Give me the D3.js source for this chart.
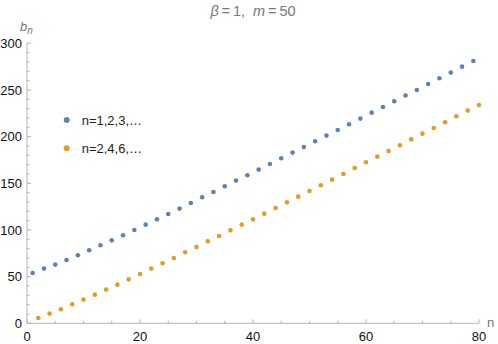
<!DOCTYPE html>
<meta charset="utf-8">
<style>
  body { margin: 0; background: white; }
  svg { font-family: "Liberation Sans", Arial, sans-serif; }
  text { white-space: pre; }
</style>
<script src="https://d3js.org/d3.v7.min.js"></script>
<div id="chart"></div>
<script>
// odd n (first series) and even n (second series)
var nOdd = [1,3,5,7,9,11,13,15,17,19,21,23,25,27,29,31,33,35,37,39,
            41,43,45,47,49,51,53,55,57,59,61,63,65,67,69,71,73,75,77,79];
var bOdd = [53.9,58.6,62.9,67.8,72.9,78.2,83.6,88.9,94.3,100.0,105.7,111.4,117.1,122.9,128.9,135.0,
            140.7,146.8,152.9,158.6,164.7,170.7,176.8,182.9,188.9,195.0,201.1,207.1,213.2,219.3,
            225.7,231.8,237.9,244.0,250.0,256.4,262.5,268.6,275.0,281.0];
var nEven = [2,4,6,8,10,12,14,16,18,20,22,24,26,28,30,32,34,36,38,40,
             42,44,46,48,50,52,54,56,58,60,62,64,66,68,70,72,74,76,78,80];
var bEven = [5.7,10.4,15.0,20.4,25.4,30.7,36.1,41.4,47.1,52.9,58.6,64.3,70.0,76.1,81.8,87.9,
             93.5,99.6,105.7,111.4,117.5,123.5,129.6,135.7,141.8,147.9,153.9,160.0,166.4,172.5,
             178.6,184.6,190.7,197.1,203.2,209.3,215.4,221.8,227.9,233.9];
var xTicks = [0,20,40,60,80];
var yTicks = [0,50,100,150,200,250,300];
var legendLabels = ["n=1,2,3,\u2026", "n=2,4,6,\u2026"];
var colors = ["#5e81b5", "#e19c24"];

var width = 498, height = 344;
var svg = d3.select("#chart").append("svg")
    .attr("width", width)
    .attr("height", height);

var x = d3.scaleLinear().domain([0, 80]).range([27, 479]);
var y = d3.scaleLinear().domain([0, 300]).range([323.3, 43.3]);

var axisColor = "#b3b3b3";

// x axis (ticks point inward)
var gx = svg.append("g").attr("transform", "translate(0," + y(0) + ")");
gx.append("line").attr("x1", x(0)).attr("x2", x(80)).attr("stroke", axisColor);
gx.selectAll(".minor").data(d3.range(0, 81, 5)).enter().append("line")
    .attr("x1", function(d){ return x(d); }).attr("x2", function(d){ return x(d); })
    .attr("y1", 0).attr("y2", function(d){ return d % 20 === 0 ? -4 : -2.5; })
    .attr("stroke", axisColor);
gx.selectAll("text").data(xTicks).enter().append("text")
    .attr("x", function(d){ return x(d); })
    .attr("y", 18)
    .attr("text-anchor", "middle")
    .attr("font-size", "13px")
    .attr("fill", "#111")
    .text(function(d){ return d; });

// y axis
var gy = svg.append("g").attr("transform", "translate(" + x(0) + ",0)");
gy.append("line").attr("y1", y(0)).attr("y2", y(300)).attr("stroke", axisColor);
gy.selectAll(".minor").data(d3.range(0, 301, 10)).enter().append("line")
    .attr("y1", function(d){ return y(d); }).attr("y2", function(d){ return y(d); })
    .attr("x1", 0).attr("x2", function(d){ return d % 50 === 0 ? 4 : 2.5; })
    .attr("stroke", axisColor);
gy.selectAll("text").data(yTicks).enter().append("text")
    .attr("x", -5)
    .attr("y", function(d){ return y(d); })
    .attr("dy", "0.36em")
    .attr("text-anchor", "end")
    .attr("font-size", "13px")
    .attr("fill", "#111")
    .text(function(d){ return d; });

// axis labels
var yl = svg.append("text").attr("x", 20).attr("y", 31)
    .attr("font-size", "13px").attr("fill", "#777").attr("font-style", "italic");
yl.append("tspan").text("b");
yl.append("tspan").attr("dy", 3).attr("font-size", "10px").text("n");
svg.append("text").attr("x", 487).attr("y", 327)
    .attr("font-size", "13px").attr("fill", "#777").text("n");

// title
var t = svg.append("text").attr("x", 253).attr("y", 16)
    .attr("text-anchor", "middle").attr("font-size", "14.5px").attr("fill", "#777");
t.append("tspan").attr("font-style", "italic").text("\u03b2");
t.append("tspan").text("\u2009=\u20091,\u00a0\u00a0");
t.append("tspan").attr("font-style", "italic").text("m");
t.append("tspan").text("\u2009=\u200950");

// points
var series = [
  { n: nOdd, b: bOdd, color: colors[0] },
  { n: nEven, b: bEven, color: colors[1] }
];
series.forEach(function(s) {
  svg.append("g").selectAll("circle")
    .data(s.n.map(function(n, i){ return [n, s.b[i]]; }))
    .enter().append("circle")
      .attr("cx", function(d){ return x(d[0]); })
      .attr("cy", function(d){ return y(d[1]); })
      .attr("r", 2.3)
      .attr("fill", s.color);
});

// legend
var lg = svg.append("g").selectAll("g").data(legendLabels).enter().append("g")
    .attr("transform", function(d, i){ return "translate(66.7," + (120 + i * 28.3) + ")"; });
lg.append("circle").attr("r", 3).attr("fill", function(d, i){ return colors[i]; });
lg.append("text").attr("x", 15).attr("dy", "0.36em")
    .attr("font-size", "13px").attr("fill", "#222")
    .text(function(d){ return d; });
</script>
